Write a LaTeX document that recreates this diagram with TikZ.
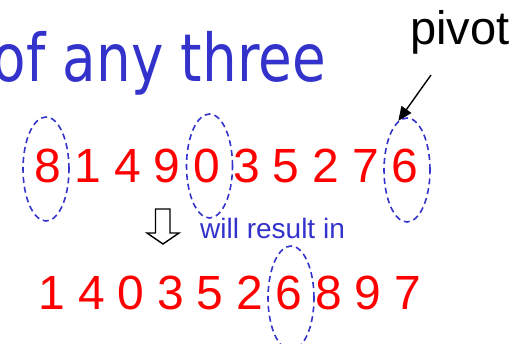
\documentclass[tikz,border=0pt]{standalone}
\usepackage{fontspec}
\setmainfont{Liberation Sans}
\newfontfamily\titlefont[FakeStretch=0.83]{DejaVu Sans}
\usetikzlibrary{arrows.meta,shapes.geometric}

\definecolor{slideblue}{RGB}{51,51,204}
\definecolor{digitred}{RGB}{255,0,0}

\tikzset{
    digit/.style={anchor=base, inner sep=0pt, text=digitred,
        font=\fontsize{48}{50}\selectfont},
    ring/.style={ellipse, draw=slideblue, dash pattern=on 6pt off 4pt,
        line width=1.6pt, minimum width=46pt, minimum height=104pt, inner sep=0pt}
}

\begin{document}
\begin{tikzpicture}[x=1pt, y=-1pt]
    \useasboundingbox (0,0) rectangle (527,344);

    \node[anchor=base east, inner sep=0pt, text=slideblue,
        font=\titlefont\fontsize{66}{70}\selectfont] (title) at (326,82) {of any three};
    \node[anchor=base west, inner sep=0pt,
        font=\fontsize{47}{50}\selectfont] (pivot) at (410,45) {pivot};

    % before partitioning
    \foreach \d [count=\i from 0] in {8,1,4,9,0,3,5,2,7,6}
        \node[digit] (top\i) at (48+39.7*\i,183) {\d};

    % after partitioning
    \foreach \d [count=\i from 0] in {1,4,0,3,5,2,6,8,9,7}
        \node[digit] (low\i) at (52+39.5*\i,309) {\d};

    \node[ring] (ring1) at (46,169) {};
    \node[ring] (ring2) at (209.5,166) {};
    \node[ring] (ring3) at (407,170) {};
    \node[ring] (ring4) at (291,298) {};

    \coordinate (tail) at (431,75);
    \draw[line width=1.4pt, -{Triangle[length=14pt,width=12pt]}] (tail) -- (ring3.100);

    \draw[line width=1.4pt, line join=miter]
        (155.5,209) -- (170,209) -- (170,233) -- (179,233) -- (163,244)
        -- (147,233) -- (155.5,233) -- cycle;
    \node[anchor=base west, inner sep=0pt, text=slideblue,
        font=\fontsize{28}{30}\selectfont] (note) at (200,239) {will result in};
\end{tikzpicture}
\end{document}
